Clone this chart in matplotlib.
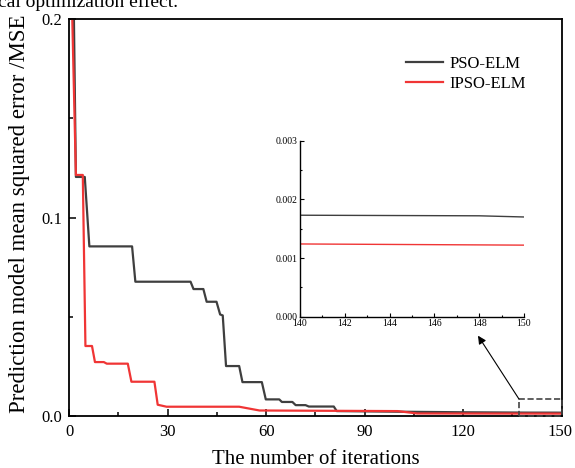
import matplotlib
matplotlib.use('Agg')
import matplotlib.pyplot as plt
from matplotlib.patches import Rectangle
from matplotlib.transforms import ScaledTranslation

plt.rcParams['font.family'] = ['Liberation Serif', 'DejaVu Serif']

# ---------------------------------------------
# dados
pso_it = [0, 1.5, 2.1, 4.8, 6.2, 19.2, 20.2, 37, 37.9, 40.9, 41.9, 44.9, 46, 46.8, 47.8,
          51.8, 52.8, 58.7, 59.9, 64, 64.8, 68, 69, 72, 73, 80.6, 81.5, 100, 120, 140, 148, 150]
pso_mse = [0.3, 0.2, 0.1205, 0.1205, 0.0855, 0.0855, 0.0677, 0.0677, 0.064, 0.064, 0.0576,
           0.0576, 0.0512, 0.0507, 0.0252, 0.0252, 0.0171, 0.0171, 0.0084, 0.0084, 0.0071,
           0.0071, 0.0055, 0.0055, 0.0048, 0.0048, 0.0025, 0.0022, 0.0019, 0.00173, 0.00172, 0.00170]

ipso_it = [0, 1, 2.1, 4.2, 5, 7, 7.9, 10.6, 11.5, 17.9, 19, 26, 27, 29.7, 51.8, 58,
           100, 106, 140, 150]
ipso_mse = [0.3, 0.2, 0.1215, 0.1215, 0.0353, 0.0353, 0.0272, 0.0272, 0.0264, 0.0264,
            0.0173, 0.0173, 0.0057, 0.0047, 0.0047, 0.0028, 0.0025, 0.0013, 0.00124, 0.00122]

labels = ['PSO-ELM', 'IPSO-ELM']
cores = ['#3f3f3f', '#f03535']

# ---------------------------------------------
fig = plt.figure(figsize=(5.75, 4.68), dpi=100)
ax = fig.add_axes([0.12, 0.111, 0.857, 0.848])

ax.plot(pso_it, pso_mse, color=cores[0], lw=1.6, label=labels[0])
ax.plot(ipso_it, ipso_mse, color=cores[1], lw=1.6, label=labels[1])

ax.set_xlim(0, 150)
ax.set_ylim(0, 0.2)
ax.set_xticks([0, 30, 60, 90, 120, 150])
ax.set_xticks([15, 45, 75, 105, 135], minor=True)
ax.set_yticks([0.0, 0.1, 0.2])
ax.set_yticklabels(['0.0', '0.1', '0.2'])
ax.set_yticks([0.05, 0.15], minor=True)
ax.tick_params(which='both', direction='in', top=False, right=False, labelsize=12, width=1.1)
ax.tick_params(which='major', length=5)
ax.tick_params(which='minor', length=3)
ax.tick_params(axis='x', pad=6)
ax.tick_params(axis='y', pad=5)
for s in ax.spines.values():
    s.set_linewidth(1.3)

# último rótulo do eixo x um pouco para a esquerda
ultimo = ax.get_xticklabels()[-1]
ultimo.set_transform(ultimo.get_transform() + ScaledTranslation(-2 / 100, 0, fig.dpi_scale_trans))

ax.set_xlabel('The number of iterations', fontsize=15)
ax.set_ylabel('Prediction model mean squared error /MSE', fontsize=16.5)
ax.xaxis.set_label_coords(0.5, -0.085)
ax.yaxis.set_label_coords(-0.08, 0.511)

ax.legend(frameon=False, fontsize=12, loc='upper left', bbox_to_anchor=(0.706, 0.88),
          bbox_transform=fig.transFigure, handlelength=2.2, handletextpad=0.4,
          borderpad=0, borderaxespad=0, labelspacing=0.25)

# retângulo tracejado e seta
ax.add_patch(Rectangle((137, 0), 13, 0.0085, fill=False, ls='--', lw=1.2,
                       edgecolor='#444444', clip_on=False, zorder=3))
ax.annotate('', xy=(124.5, 0.0405), xytext=(137, 0.0085),
            arrowprops=dict(arrowstyle='-|>', color='black', lw=0.8, mutation_scale=12,
                            shrinkA=0, shrinkB=0))

# ---------------------------------------------
# detalhe (inset)
axin = fig.add_axes([0.5217, 0.3233, 0.3896, 0.376])
axin.plot(pso_it, pso_mse, color=cores[0], lw=1.0)
axin.plot(ipso_it, ipso_mse, color=cores[1], lw=1.0)
axin.set_xlim(140, 150)
axin.set_ylim(0, 0.003)
axin.set_xticks(range(140, 151, 2))
axin.set_xticks(range(141, 150, 2), minor=True)
axin.set_yticks([0, 0.001, 0.002, 0.003])
axin.set_yticklabels(['0.000', '0.001', '0.002', '0.003'])
axin.set_yticks([0.0005, 0.0015, 0.0025], minor=True)
axin.spines['top'].set_visible(False)
axin.spines['right'].set_visible(False)
for s in ['left', 'bottom']:
    axin.spines[s].set_linewidth(1.0)
axin.tick_params(which='both', direction='in', labelsize=7, pad=2, width=0.8)
axin.tick_params(which='major', length=3)
axin.tick_params(which='minor', length=1.5)

# texto cortado no topo
fig.text(-0.003, 1 - 7 / 468, 'cal optimization effect.', fontsize=14, va='baseline')

fig.savefig('out.png', dpi=100)
